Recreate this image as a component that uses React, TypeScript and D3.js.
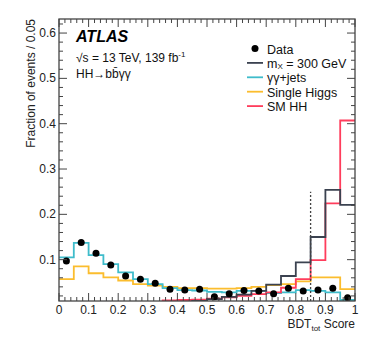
import React, { useEffect, useRef } from 'react';
import * as d3 from 'd3';

// bin lower edges, width 0.05
const binEdges = [0, 0.05, 0.1, 0.15, 0.2, 0.25, 0.3, 0.35, 0.4, 0.45, 0.5, 0.55, 0.6, 0.65, 0.7, 0.75, 0.8, 0.85, 0.9, 0.95];
const binWidth = 0.05;

const dataValues = [0.097, 0.138, 0.114, 0.088, 0.064, 0.057, 0.048, 0.035, 0.033, 0.035, 0.018, 0.025, 0.032, 0.031, 0.025, 0.037, 0.031, 0.033, 0.037, 0.016];
const mx300Values = [0.001, 0.001, 0.001, 0.001, 0.002, 0.003, 0.004, 0.005, 0.007, 0.009, 0.013, 0.018, 0.023, 0.031, 0.045, 0.064, 0.094, 0.150, 0.254, 0.221];
const gamgamJets = [0.105, 0.137, 0.110, 0.090, 0.072, 0.057, 0.046, 0.037, 0.033, 0.032, 0.029, 0.028, 0.031, 0.031, 0.026, 0.028, 0.033, 0.031, 0.028, 0.011];
const singleHiggs = [0.057, 0.085, 0.070, 0.061, 0.054, 0.046, 0.043, 0.040, 0.037, 0.037, 0.036, 0.036, 0.037, 0.040, 0.044, 0.046, 0.052, 0.061, 0.061, 0.035];
const smHH = [0.001, 0.001, 0.001, 0.002, 0.002, 0.003, 0.005, 0.010, 0.011, 0.012, 0.014, 0.017, 0.020, 0.024, 0.028, 0.038, 0.057, 0.099, 0.224, 0.407];

const yTickLabels = [0.1, 0.2, 0.3, 0.4, 0.5, 0.6];
const xTickLabels = [0, 0.1, 0.2, 0.3, 0.4, 0.5, 0.6, 0.7, 0.8, 0.9, 1];
const cutValue = 0.85;
const cutTop = 0.25;

const legendItems = [
    { key: 'mx', label: 'm', color: '#3b4250' },
    { key: 'gg', label: 'γγ+jets', color: '#3fbccb' },
    { key: 'sh', label: 'Single Higgs', color: '#fbbd2e' },
    { key: 'hh', label: 'SM HH', color: '#ff3d5c' }
];

const App = () => {
    const svgRef = useRef(null);

    useEffect(() => {
        const svg = d3.select(svgRef.current);
        svg.selectAll('*').remove();

        const left = 59, right = 355, top = 19, bottom = 301;
        const font = '"Liberation Sans", Arial, Helvetica, sans-serif';

        const x = d3.scaleLinear().domain([0, 1]).range([left, right]);
        const y = d3.scaleLinear().domain([0.0088, 0.631]).range([bottom, top]);

        svg.append('defs').append('clipPath').attr('id', 'plotclip')
            .append('rect')
            .attr('x', left).attr('y', top)
            .attr('width', right - left).attr('height', bottom - top);

        const plot = svg.append('g').attr('clip-path', 'url(#plotclip)');

        const stepLine = d3.line()
            .curve(d3.curveStepAfter)
            .x((d) => x(d[0]))
            .y((d) => y(d[1]));

        const histPoints = (vals) => {
            const pts = binEdges.map((e, i) => [e, vals[i]]);
            pts.push([binEdges[binEdges.length - 1] + binWidth, vals[vals.length - 1]]);
            return pts;
        };

        const drawHist = (vals, color) => {
            plot.append('path')
                .attr('d', stepLine(histPoints(vals)))
                .attr('fill', 'none')
                .attr('stroke', color)
                .attr('stroke-width', 1.8);
        };

        drawHist(singleHiggs, legendItems[2].color);
        drawHist(gamgamJets, legendItems[1].color);
        drawHist(smHH, legendItems[3].color);
        drawHist(mx300Values, legendItems[0].color);

        // cut line
        plot.append('line')
            .attr('x1', x(cutValue)).attr('x2', x(cutValue))
            .attr('y1', y(0.0088)).attr('y2', y(cutTop))
            .attr('stroke', '#444')
            .attr('stroke-width', 1.3)
            .attr('stroke-dasharray', '2,2');

        // data points
        plot.selectAll('.pt')
            .data(dataValues)
            .enter()
            .append('circle')
            .attr('cx', (d, i) => x(binEdges[i] + binWidth / 2))
            .attr('cy', (d) => y(d))
            .attr('r', 3.5)
            .attr('fill', '#000');

        // frame
        const frame = svg.append('g');
        frame.append('rect')
            .attr('x', left).attr('y', top)
            .attr('width', right - left).attr('height', bottom - top)
            .attr('fill', 'none')
            .attr('stroke', '#444')
            .attr('stroke-width', 1.3);

        const xMinor = d3.range(0, 1.0001, 0.02);
        const yMinor = d3.range(0.02, 0.631, 0.02);
        const isMajor = (v) => Math.abs(v * 10 - Math.round(v * 10)) < 1e-6;

        xMinor.forEach((v) => {
            const len = isMajor(v) ? 8 : 4;
            frame.append('line')
                .attr('x1', x(v)).attr('x2', x(v))
                .attr('y1', bottom).attr('y2', bottom - len)
                .attr('stroke', '#444').attr('stroke-width', 1);
            frame.append('line')
                .attr('x1', x(v)).attr('x2', x(v))
                .attr('y1', top).attr('y2', top + len)
                .attr('stroke', '#444').attr('stroke-width', 1);
        });

        yMinor.forEach((v) => {
            const len = isMajor(v) ? 8 : 4;
            frame.append('line')
                .attr('x1', left).attr('x2', left + len)
                .attr('y1', y(v)).attr('y2', y(v))
                .attr('stroke', '#444').attr('stroke-width', 1);
            frame.append('line')
                .attr('x1', right).attr('x2', right - len)
                .attr('y1', y(v)).attr('y2', y(v))
                .attr('stroke', '#444').attr('stroke-width', 1);
        });

        // tick labels
        frame.selectAll('.xl')
            .data(xTickLabels)
            .enter()
            .append('text')
            .attr('x', (d) => x(d))
            .attr('y', 314)
            .attr('text-anchor', 'middle')
            .attr('font-family', font)
            .attr('font-size', 12)
            .attr('fill', '#222')
            .text((d) => String(d));

        frame.selectAll('.yl')
            .data(yTickLabels)
            .enter()
            .append('text')
            .attr('x', left - 3)
            .attr('y', (d) => y(d) + 4)
            .attr('text-anchor', 'end')
            .attr('font-family', font)
            .attr('font-size', 12)
            .attr('fill', '#222')
            .text((d) => String(d));

        // axis titles
        const xt = svg.append('text')
            .attr('x', right)
            .attr('y', 328)
            .attr('text-anchor', 'end')
            .attr('font-family', font)
            .attr('font-size', 12)
            .attr('fill', '#222');
        xt.append('tspan').text('BDT');
        xt.append('tspan').attr('font-size', 8).attr('dy', 3).text('tot');
        xt.append('tspan').attr('dy', -3).text(' Score');

        svg.append('text')
            .attr('transform', `translate(35, ${top}) rotate(-90)`)
            .attr('text-anchor', 'end')
            .attr('font-family', font)
            .attr('font-size', 12)
            .attr('fill', '#222')
            .text('Fraction of events / 0.05');

        // ATLAS label
        svg.append('text')
            .attr('x', 76).attr('y', 42)
            .attr('font-family', font)
            .attr('font-size', 16)
            .attr('font-weight', 'bold')
            .attr('font-style', 'italic')
            .attr('fill', '#000')
            .text('ATLAS');

        const energy = svg.append('text')
            .attr('x', 76).attr('y', 62)
            .attr('font-family', font)
            .attr('font-size', 12)
            .attr('fill', '#111');
        energy.append('tspan').text('√s = 13 TeV, 139 fb');
        energy.append('tspan').attr('font-size', 8).attr('dy', -5).text('-1');

        svg.append('text')
            .attr('x', 76).attr('y', 78)
            .attr('font-family', font)
            .attr('font-size', 12)
            .attr('fill', '#111')
            .text('HH→bb\u0304γγ');

        // legend
        const lx = 247, ly = 49.5, dy = 14.4;
        const legend = svg.append('g');
        legend.append('circle')
            .attr('cx', lx + 8).attr('cy', ly - 1)
            .attr('r', 3.5).attr('fill', '#000');
        legend.append('text')
            .attr('x', lx + 20).attr('y', ly + 4)
            .attr('font-family', font).attr('font-size', 12.5)
            .attr('fill', '#111')
            .text('Data');

        legendItems.forEach((item, i) => {
            const yy = ly + dy * (i + 1);
            legend.append('line')
                .attr('x1', lx).attr('x2', lx + 16)
                .attr('y1', yy - 1).attr('y2', yy - 1)
                .attr('stroke', item.color).attr('stroke-width', 1.8);
            const t = legend.append('text')
                .attr('x', lx + 20).attr('y', yy + 4)
                .attr('font-family', font).attr('font-size', 12.5)
                .attr('fill', '#111');
            if (item.key === 'mx') {
                t.append('tspan').text('m');
                t.append('tspan').attr('font-size', 8).attr('dy', 1.5).text('X');
                t.append('tspan').attr('dy', -1.5).text(' = 300 GeV');
            } else {
                t.text(item.label);
            }
        });
    }, []);

    return (
        <svg ref={svgRef} width={374} height={359} style={{ display: 'block', position: 'absolute', left: 0, top: 0 }}></svg>
    );
};

export default App;
